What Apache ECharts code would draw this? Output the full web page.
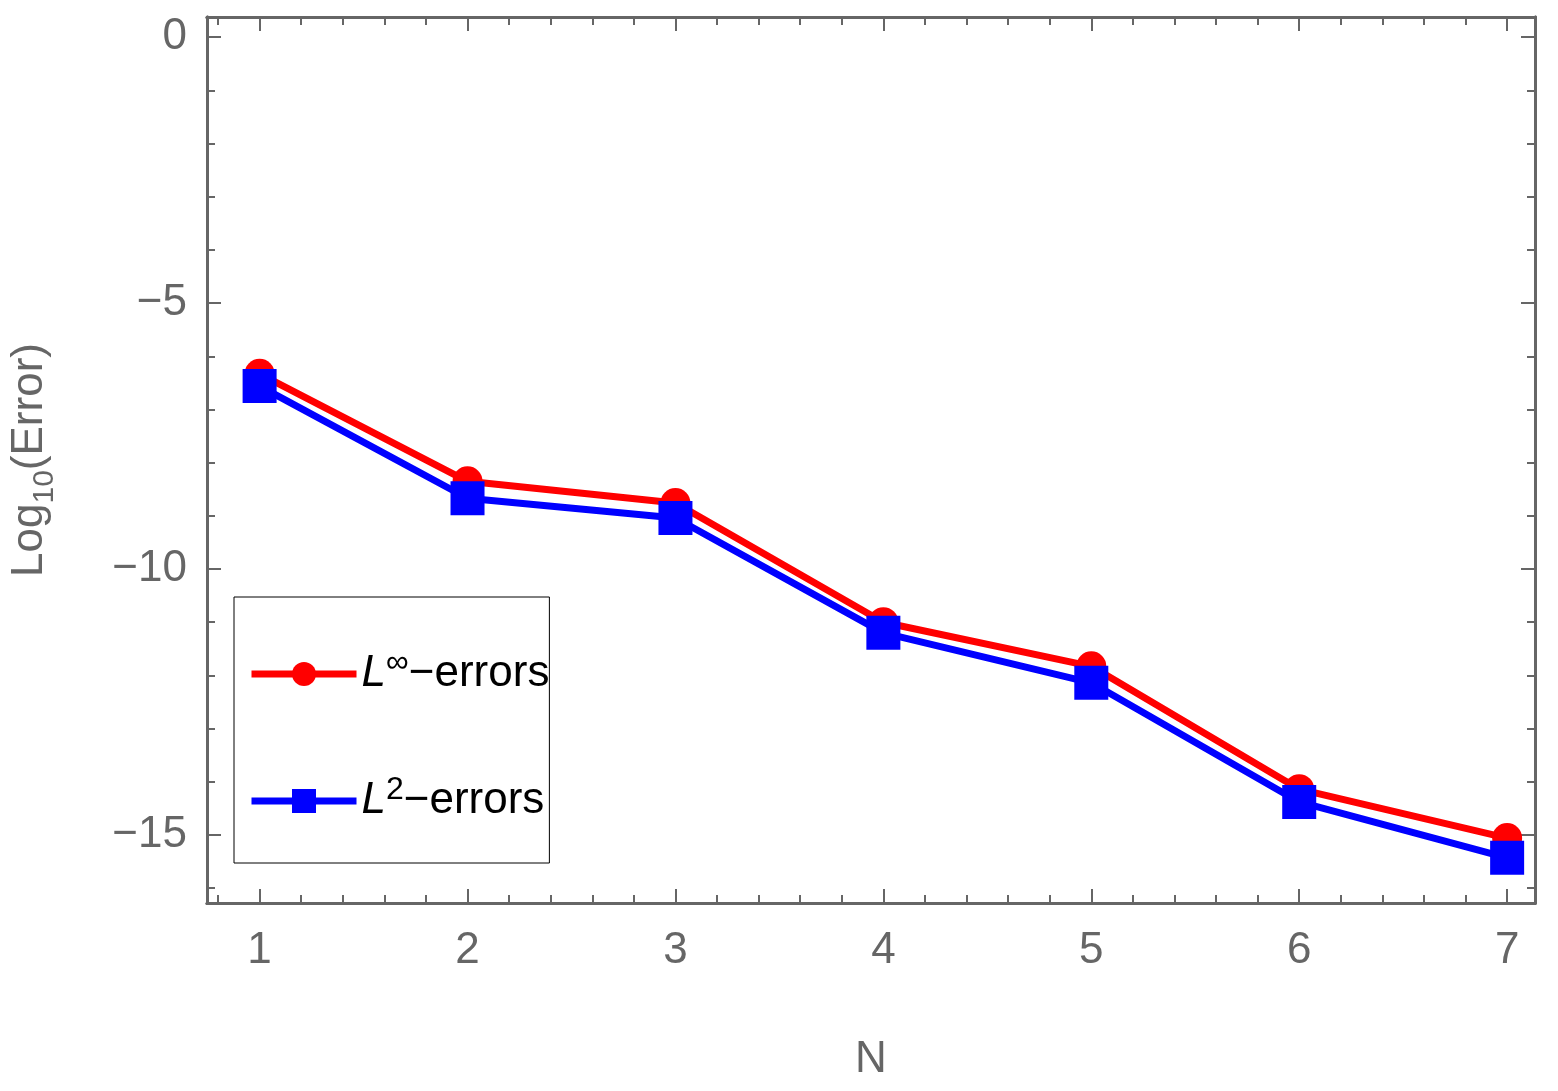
<!DOCTYPE html><html><head><meta charset="utf-8">
<script src="https://cdn.jsdelivr.net/npm/echarts@6/dist/echarts.min.js"></script>
<style>html,body{margin:0;background:#fff}#c{width:1558px;height:1091px}</style></head><body><div id="c"></div>
<script>
const nValues=[1,2,3,4,5,6,7];
const linfErrors=[-6.33,-8.35,-8.76,-11.0,-11.83,-14.14,-15.06];
const l2Errors=[-6.56,-8.67,-9.04,-11.2,-12.14,-14.38,-15.43];
const xTicks=[1,2,3,4,5,6,7];
const yTicks=[0,-5,-10,-15];
const xMinor=[];for(let v=0.8;v<7.14;v+=0.2){if(Math.abs(v-Math.round(v))>0.01)xMinor.push(+v.toFixed(2));}
const yMinor=[];for(let v=0;v>=-16;v--){if(v%5!==0)yMinor.push(v);}
const gray='#666';
const FF='Liberation Sans';
const XMIN=0.747,XMAX=7.134,YMIN=-16.28,YMAX=0.38;
function xa(pos,vals,len,labels,extra){return Object.assign({type:'value',position:pos,min:XMIN,max:XMAX,splitLine:{show:false},
 axisLine:{show:true,onZero:false,lineStyle:{color:gray,width:3}},
 axisTick:{show:true,inside:true,length:len,customValues:vals,lineStyle:{color:gray,width:2}},
 axisLabel:labels?{show:true,customValues:vals,color:gray,fontSize:44,fontFamily:FF,margin:26}:{show:false}},extra||{});}
function ya(pos,vals,len,labels,extra){return Object.assign({type:'value',position:pos,min:YMIN,max:YMAX,splitLine:{show:false},
 axisLine:{show:true,onZero:false,lineStyle:{color:gray,width:3}},
 axisTick:{show:true,inside:true,length:len,customValues:vals,lineStyle:{color:gray,width:2}},
 axisLabel:labels?{show:true,customValues:vals,color:gray,fontSize:44,fontFamily:FF,margin:20,formatter:v=>v<0?'\u2212'+(-v):''+v}:{show:false}},extra||{});}
const chart=echarts.init(document.getElementById('c'));
chart.setOption({
 animation:false,
 grid:{left:197,top:17,right:23,bottom:188,containLabel:false},
 xAxis:[xa('bottom',xTicks,14,true,{name:'N',nameLocation:'middle',nameGap:135,nameTextStyle:{color:gray,fontSize:44,fontFamily:FF}}),
  xa('bottom',xMinor,8,false),xa('top',xTicks,14,false),xa('top',xMinor,8,false)],
 yAxis:[ya('left',yTicks,14,true,{name:'{a|Log}{s|10}{a|(Error)}',nameLocation:'middle',nameGap:155,nameRotate:90,
   nameTextStyle:{rich:{a:{color:gray,fontSize:44,fontFamily:FF},s:{color:gray,fontSize:30,fontFamily:FF,verticalAlign:'bottom',padding:[0,0,-8,0]}}}}),
  ya('left',yMinor,8,false),ya('right',yTicks,14,false),ya('right',yMinor,8,false)],
 legend:{orient:'vertical',left:234,top:597,width:352,height:266,padding:[50,0,40,14],itemGap:78,
  borderColor:'#000',borderWidth:1,itemWidth:105,itemHeight:30,
  lineStyle:{width:7},
  formatter:n=>n==='inf'?'{i|L}{p|∞}{t|\u2212errors}':'{i|L}{p|2}{t|\u2212errors}',
  textStyle:{rich:{i:{fontSize:44,fontStyle:'italic',fontFamily:FF,color:'#000'},
   p:{fontSize:32,fontFamily:FF,color:'#000',verticalAlign:'top',padding:[0,0,22,0]},
   t:{fontSize:44,fontFamily:FF,color:'#000'}}},
  data:[{name:'inf'},{name:'l2'}]},
 series:[
  {name:'inf',type:'line',data:nValues.map((n,i)=>[n,linfErrors[i]]),symbol:'circle',symbolSize:30,
   lineStyle:{color:'#ff0000',width:7},itemStyle:{color:'#ff0000'},z:2},
  {name:'l2',type:'line',data:nValues.map((n,i)=>[n,l2Errors[i]]),symbol:'rect',symbolSize:34,
   lineStyle:{color:'#0000ff',width:7},itemStyle:{color:'#0000ff'},z:3}
 ]
});
</script></body></html>
